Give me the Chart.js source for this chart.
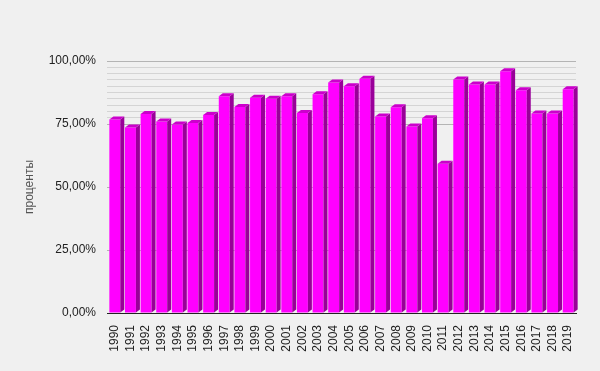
<!DOCTYPE html>
<html>
<head>
<meta charset="utf-8">
<script src="https://cdn.jsdelivr.net/npm/chart.js@4/dist/chart.umd.min.js"></script>
<style>
  html, body { margin: 0; padding: 0; background: #f0f0f0; }
  #wrap { width: 600px; height: 371px; }
</style>
</head>
<body>
<div id="wrap"><canvas id="grafico"></canvas></div>
<script>
// годы и значения (проценты)
const years = ["1990","1991","1992","1993","1994","1995","1996","1997","1998","1999",
               "2000","2001","2002","2003","2004","2005","2006","2007","2008","2009",
               "2010","2011","2012","2013","2014","2015","2016","2017","2018","2019"];
const values = [76.8, 73.6, 79.0, 76.0, 74.8, 75.4, 78.6, 86.0, 81.7, 85.4,
                85.0, 86.0, 79.4, 86.8, 91.5, 90.0, 93.0, 78.0, 81.6, 74.0,
                77.3, 59.2, 92.7, 90.7, 90.7, 95.9, 88.4, 79.2, 79.2, 88.8];
const majorTicks = [0, 25, 50, 75, 100];

const fmt = v => v.toFixed(2).replace(".", ",") + "%";

// псевдо-3D: боковая грань и верх
const bar3d = {
    id: "bar3d",
    afterDatasetsDraw(chart) {
        const ctx = chart.ctx;
        const meta = chart.getDatasetMeta(0);
        const d = 4, dy = 3;
        meta.data.forEach(el => {
            const p = el.getProps(["x", "y", "base", "width"], true);
            const l = p.x - p.width / 2, r = p.x + p.width / 2;
            ctx.save();
            ctx.fillStyle = "#990099";
            ctx.beginPath();
            ctx.moveTo(r, p.y);
            ctx.lineTo(r + d, p.y - dy);
            ctx.lineTo(r + d, p.base - dy);
            ctx.lineTo(r, p.base);
            ctx.closePath();
            ctx.fill();
            ctx.fillStyle = "#cc00cc";
            ctx.beginPath();
            ctx.moveTo(l, p.y);
            ctx.lineTo(l + d, p.y - dy);
            ctx.lineTo(r + d, p.y - dy);
            ctx.lineTo(r, p.y);
            ctx.closePath();
            ctx.fill();
            ctx.restore();
        });
    }
};

new Chart(document.getElementById("grafico"), {
    type: "bar",
    data: {
        labels: years,
        datasets: [{
            data: values,
            backgroundColor: "#ff00ff",
            borderWidth: 0,
            barPercentage: 0.7,
            categoryPercentage: 1.0
        }]
    },
    options: {
        responsive: true,
        maintainAspectRatio: false,
        animation: false,
        layout: { padding: { top: 61, right: 24, bottom: 0, left: 22 } },
        plugins: {
            legend: { display: false },
            tooltip: { enabled: false }
        },
        scales: {
            x: {
                grid: { display: false },
                border: { display: true, color: "#222222", width: 1 },
                ticks: {
                    color: "#222222",
                    font: { family: "Liberation Sans, Arial", size: 12 },
                    minRotation: 90,
                    maxRotation: 90,
                    autoSkip: false,
                    padding: 4
                },
                afterFit(s) { s.height = 58; }
            },
            y: {
                min: 0,
                max: 100,
                border: { display: false },
                grid: {
                    drawTicks: false,
                    color: c => {
                        const v = c.tick.value;
                        if (majorTicks.includes(v)) return "#b4b4b4";
                        return v > 75 ? "#d4d4d4" : "rgba(0,0,0,0)";
                    }
                },
                ticks: {
                    stepSize: 2.5,
                    autoSkip: false,
                    color: "#222222",
                    font: { family: "Liberation Sans, Arial", size: 12 },
                    padding: 11,
                    callback: v => majorTicks.includes(v) ? fmt(v) : ""
                },
                title: {
                    display: true,
                    text: "проценты",
                    color: "#555555",
                    font: { family: "Liberation Sans, Arial", size: 12 },
                    padding: { top: 0, bottom: 0 }
                },
                afterFit(s) { s.width = 85; }
            }
        }
    },
    plugins: [bar3d]
});
</script>
</body>
</html>
